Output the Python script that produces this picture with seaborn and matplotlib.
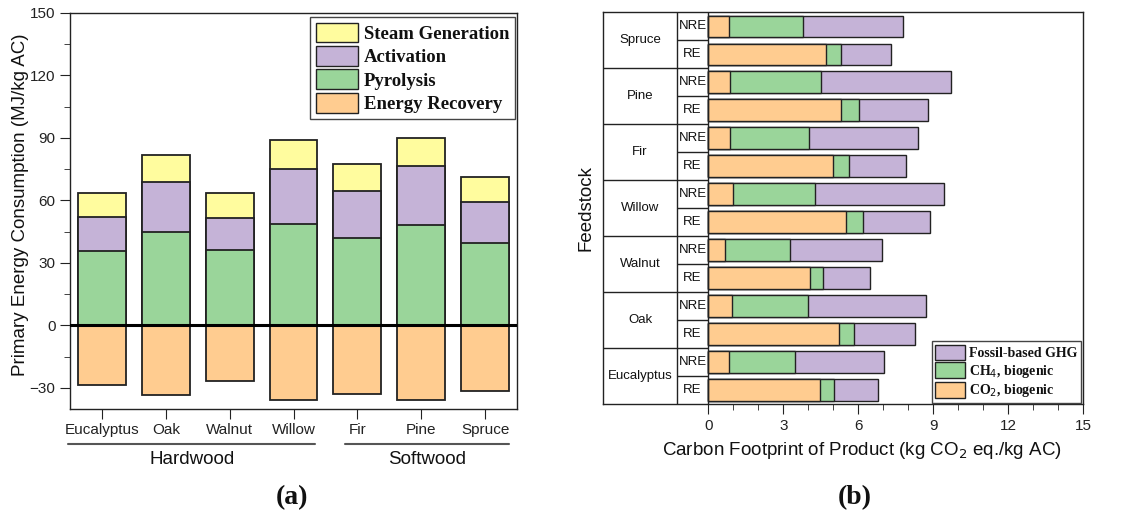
import numpy as np
import pandas as pd
import matplotlib
matplotlib.use("Agg")
import matplotlib.pyplot as plt
import seaborn as sns
from matplotlib.patches import Patch
from matplotlib.ticker import MultipleLocator, FixedLocator

# ---- panel (a) data: primary energy consumption (MJ/kg AC)
species = ["Eucalyptus", "Oak", "Walnut", "Willow", "Fir", "Pine", "Spruce"]
energy_recovery = [-28.8, -33.4, -26.9, -35.8, -32.7, -35.8, -31.6]
pyrolysis = [35.7, 45.0, 36.2, 48.7, 42.0, 48.2, 39.4]
activation = [16.5, 23.8, 15.5, 26.6, 22.6, 28.1, 19.7]
steam_generation = [11.6, 12.9, 11.8, 13.5, 12.8, 13.7, 12.2]

# ---- panel (b) data: carbon footprint (kg CO2 eq./kg AC), rows top -> bottom
feedstocks = ["Spruce", "Pine", "Fir", "Willow", "Walnut", "Oak", "Eucalyptus"]
scenarios = ["NRE", "RE"]
co2_biogenic = [0.81, 4.69, 0.88, 5.31, 0.88, 5.00, 0.98, 5.52, 0.67, 4.07, 0.95, 5.21, 0.81, 4.48]
ch4_biogenic = [2.97, 0.60, 3.63, 0.73, 3.14, 0.63, 3.30, 0.67, 2.61, 0.52, 3.04, 0.60, 2.64, 0.55]
fossil_ghg = [4.01, 2.02, 5.18, 2.76, 4.37, 2.27, 5.13, 2.68, 3.68, 1.86, 4.73, 2.47, 3.58, 1.76]

c_yellow = "#FFFC9E"
c_purple = "#C5B3D7"
c_green = "#9AD59A"
c_orange = "#FFCC90"

sns.set_style("ticks")
plt.rcParams["font.family"] = ["Liberation Sans", "DejaVu Sans"]
plt.rcParams["axes.linewidth"] = 1.0
plt.rcParams["axes.edgecolor"] = "#222222"
plt.rcParams["text.color"] = "#111111"
plt.rcParams["axes.labelcolor"] = "#111111"
plt.rcParams["xtick.color"] = "#222222"
plt.rcParams["ytick.color"] = "#222222"
plt.rcParams["xtick.major.size"] = 7
plt.rcParams["ytick.major.size"] = 7
plt.rcParams["xtick.minor.size"] = 4
plt.rcParams["ytick.minor.size"] = 4
serif = ["Liberation Serif", "DejaVu Serif"]

fig = plt.figure(figsize=(11.41, 5.20), dpi=100)
ax1 = fig.add_axes([0.0614, 0.214, 0.3917, 0.761])
ax2 = fig.add_axes([0.5288, 0.223, 0.4206, 0.753])

# ---------------- (a)
dfa = pd.DataFrame({"species": species, "er": energy_recovery, "pyro": pyrolysis,
                    "act": activation, "steam": steam_generation})
dfa["pyro_act"] = dfa["pyro"] + dfa["act"]
dfa["total"] = dfa["pyro_act"] + dfa["steam"]

bar_kw = dict(saturation=1, width=0.75, edgecolor="#222222", linewidth=1.3, ax=ax1)
sns.barplot(data=dfa, x="species", y="total", color=c_yellow, **bar_kw)
sns.barplot(data=dfa, x="species", y="pyro_act", color=c_purple, **bar_kw)
sns.barplot(data=dfa, x="species", y="pyro", color=c_green, **bar_kw)
sns.barplot(data=dfa, x="species", y="er", color=c_orange, **bar_kw)
ax1.axhline(0, color="black", lw=2.2, zorder=5)

ax1.set_xlim(-0.5, 6.5)
ax1.set_ylim(-40, 150)
ax1.yaxis.set_major_locator(MultipleLocator(30))
ax1.yaxis.set_minor_locator(MultipleLocator(15))
ax1.set_xlabel("")
ax1.set_ylabel("Primary Energy Consumption (MJ/kg AC)", fontsize=13.5)
ax1.yaxis.set_label_coords(-0.092, 0.515)
ax1.tick_params(axis="x", labelsize=11)
ax1.tick_params(axis="y", labelsize=11)
for s in ax1.spines.values():
    s.set_visible(True)

# group labels under the x axis
trans = ax1.get_xaxis_transform()
groups = [("Hardwood", -0.53, 3.34), ("Softwood", 3.81, 6.38)]
for name, x0, x1 in groups:
    ax1.plot([x0, x1], [-0.088, -0.088], color="#555555", lw=1.5,
             transform=trans, clip_on=False)
    ax1.text((x0 + x1) / 2, -0.108, name, transform=trans, ha="center",
             va="top", fontsize=13.5)

handles_a = [Patch(facecolor=c_yellow, edgecolor="#222222", label="Steam Generation"),
             Patch(facecolor=c_purple, edgecolor="#222222", label="Activation"),
             Patch(facecolor=c_green, edgecolor="#222222", label="Pyrolysis"),
             Patch(facecolor=c_orange, edgecolor="#222222", label="Energy Recovery")]
leg = ax1.legend(handles=handles_a, loc="upper right", bbox_to_anchor=(0.995, 0.99),
                 prop={"family": serif, "weight": "bold", "size": 13.5},
                 fancybox=False, edgecolor="#444444", framealpha=1,
                 handlelength=2.25, handleheight=1.25, labelspacing=0.17,
                 handletextpad=0.3, borderpad=0.3, borderaxespad=0.0)
leg.get_frame().set_linewidth(1.0)

# ---------------- (b)
rows = [f"{f} {s}" for f in feedstocks for s in scenarios]
dfb = pd.DataFrame({"row": rows, "co2": co2_biogenic, "ch4": ch4_biogenic,
                    "fossil": fossil_ghg})
dfb["co2_ch4"] = dfb["co2"] + dfb["ch4"]
dfb["total"] = dfb["co2_ch4"] + dfb["fossil"]

bar_kw = dict(orient="h", saturation=1, width=0.78, edgecolor="#222222",
              linewidth=1.0, ax=ax2)
sns.barplot(data=dfb, y="row", x="total", color=c_purple, **bar_kw)
sns.barplot(data=dfb, y="row", x="co2_ch4", color=c_green, **bar_kw)
sns.barplot(data=dfb, y="row", x="co2", color=c_orange, **bar_kw)

n = len(rows)
left = -4.2
col = -1.26
ax2.set_xlim(left, 15)
ax2.set_ylim(n - 0.5, -0.5)
ax2.xaxis.set_major_locator(FixedLocator(np.arange(0, 16, 3)))
ax2.xaxis.set_minor_locator(FixedLocator(np.arange(0, 16, 1)))
ax2.tick_params(axis="x", labelsize=11)
ax2.set_yticks([])
for s in ax2.spines.values():
    s.set_visible(True)

# table on the left
ax2.vlines([col, 0], -0.5, n - 0.5, color="#222222", lw=1.0)
for i in range(n - 1):
    x0 = left if i % 2 == 1 else col
    ax2.hlines(i + 0.5, x0, 0, color="#222222", lw=1.0)
for i, r in enumerate(rows):
    ax2.text((col + 0) / 2, i, r.split()[1], ha="center", va="center", fontsize=9.5)
for j, f in enumerate(feedstocks):
    ax2.text((left + col) / 2, 2 * j + 0.5, f, ha="center", va="center", fontsize=9.5)

ax2.set_ylabel("Feedstock", fontsize=13.5)
ax2.yaxis.set_label_coords(-0.019, 0.5)
ax2.set_xlabel("Carbon Footprint of Product (kg CO$_2$ eq./kg AC)", fontsize=13.5)
ax2.xaxis.set_label_coords(0.539, -0.092)

handles_b = [Patch(facecolor=c_purple, edgecolor="#222222", label="Fossil-based GHG"),
             Patch(facecolor=c_green, edgecolor="#222222", label="CH$_4$, biogenic"),
             Patch(facecolor=c_orange, edgecolor="#222222", label="CO$_2$, biogenic")]
leg2 = ax2.legend(handles=handles_b, loc="lower right", bbox_to_anchor=(0.995, 0.003),
                  prop={"family": serif, "weight": "bold", "size": 10},
                  fancybox=False, edgecolor="#444444", framealpha=1,
                  handlelength=2.15, handleheight=1.35, labelspacing=0.15,
                  handletextpad=0.3, borderpad=0.25, borderaxespad=0.0)
leg2.get_frame().set_linewidth(1.0)

fig.text(0.256, 0.044, "(a)", ha="center", va="center", fontsize=20,
         fontweight="bold", family=serif)
fig.text(0.749, 0.044, "(b)", ha="center", va="center", fontsize=20,
         fontweight="bold", family=serif)

fig.savefig("out.png", dpi=100)
